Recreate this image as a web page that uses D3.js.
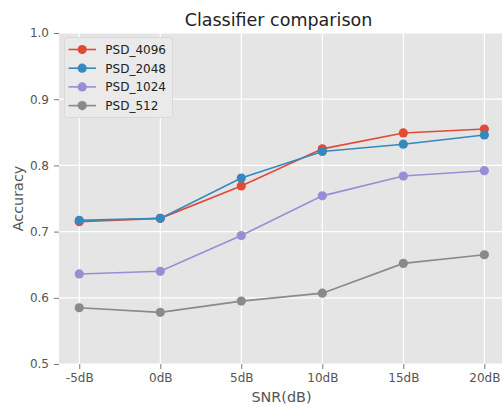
<!DOCTYPE html>
<html>
<head>
<meta charset="utf-8">
<script src="https://cdn.jsdelivr.net/npm/d3@7"></script>
<style>
  html, body { margin: 0; padding: 0; background: #fff; }
  svg { display: block; font-family: "DejaVu Sans", sans-serif; }
</style>
</head>
<body>
<svg id="chart" width="502" height="407"></svg>
<script>
// SNR levels on the x axis
const snrLabels = ["-5dB", "0dB", "5dB", "10dB", "15dB", "20dB"];
const snrValues = [-5, 0, 5, 10, 15, 20];

// Accuracy per classifier
const psd4096 = [0.715, 0.720, 0.769, 0.825, 0.849, 0.855];
const psd2048 = [0.717, 0.720, 0.781, 0.821, 0.832, 0.846];
const psd1024 = [0.636, 0.640, 0.694, 0.754, 0.784, 0.792];
const psd512  = [0.585, 0.578, 0.595, 0.607, 0.652, 0.665];

const seriesNames = ["PSD_4096", "PSD_2048", "PSD_1024", "PSD_512"];
const seriesColors = ["#E24A33", "#348ABD", "#988ED5", "#8A8A8A"];
const yTicks = [0.5, 0.6, 0.7, 0.8, 0.9, 1.0];

const series = [psd4096, psd2048, psd1024, psd512].map((vals, i) => ({
  name: seriesNames[i],
  color: seriesColors[i],
  points: vals.map((v, j) => ({ x: snrValues[j], y: v }))
}));

const svg = d3.select("#chart");
const plot = { left: 59, right: 504.6, top: 33, bottom: 364 };

const x = d3.scaleLinear().domain([-6.25, 21.25]).range([plot.left, plot.right]);
const y = d3.scaleLinear().domain([0.5, 1.0]).range([plot.bottom, plot.top]);

// panel background
svg.append("rect")
  .attr("x", plot.left).attr("y", plot.top)
  .attr("width", plot.right - plot.left).attr("height", plot.bottom - plot.top)
  .attr("fill", "#E5E5E5");

// grid lines
const grid = svg.append("g");
grid.selectAll("line.gx").data(snrValues).join("line")
  .attr("x1", d => x(d)).attr("x2", d => x(d))
  .attr("y1", plot.top).attr("y2", plot.bottom)
  .attr("stroke", "#fff").attr("stroke-width", 1.2);
grid.selectAll("line.gy").data(yTicks).join("line")
  .attr("x1", plot.left).attr("x2", plot.right)
  .attr("y1", d => y(d)).attr("y2", d => y(d))
  .attr("stroke", "#fff").attr("stroke-width", 1.2);

// axes
const xAxis = d3.axisBottom(x).tickValues(snrValues)
  .tickFormat((d, i) => snrLabels[i]).tickSize(5).tickPadding(4);
const yAxis = d3.axisLeft(y).tickValues(yTicks)
  .tickFormat(d3.format(".1f")).tickSize(5).tickPadding(5);

const gx = svg.append("g").attr("transform", `translate(0,${plot.bottom})`).call(xAxis);
const gy = svg.append("g").attr("transform", `translate(${plot.left},0)`).call(yAxis);
[gx, gy].forEach(g => {
  g.select(".domain").remove();
  g.selectAll(".tick line").attr("stroke", "#555").attr("stroke-width", 0.8);
  g.selectAll(".tick text").attr("fill", "#555").attr("font-size", 12)
    .attr("font-family", "DejaVu Sans, sans-serif");
});

// lines and markers
const line = d3.line().x(d => x(d.x)).y(d => y(d.y));
series.forEach(s => {
  svg.append("path").datum(s.points)
    .attr("d", line).attr("fill", "none")
    .attr("stroke", s.color).attr("stroke-width", 1.6);
  svg.append("g").selectAll("circle").data(s.points).join("circle")
    .attr("cx", d => x(d.x)).attr("cy", d => y(d.y)).attr("r", 4.6)
    .attr("fill", s.color);
});

// title and axis labels
svg.append("text").attr("x", 278.5).attr("y", 25.5)
  .attr("text-anchor", "middle").attr("font-size", 17.5).attr("fill", "#222")
  .text("Classifier comparison");
svg.append("text").attr("x", 281.5).attr("y", 401.5)
  .attr("text-anchor", "middle").attr("font-size", 14.4).attr("fill", "#555")
  .text("SNR(dB)");
svg.append("text")
  .attr("transform", `translate(22.5,${(plot.top + plot.bottom) / 2}) rotate(-90)`)
  .attr("text-anchor", "middle").attr("font-size", 14.4).attr("fill", "#555")
  .text("Accuracy");

// legend
const legend = svg.append("g").attr("transform", "translate(64.5,37.5)");
legend.append("rect")
  .attr("width", 108).attr("height", 80).attr("rx", 2.5)
  .attr("fill", "#EAEAEA").attr("stroke", "#D6D6D6").attr("stroke-width", 0.8);
series.forEach((s, i) => {
  const row = legend.append("g").attr("transform", `translate(0,${12 + i * 18.7})`);
  row.append("line").attr("x1", 4).attr("x2", 31.5).attr("y1", 0).attr("y2", 0)
    .attr("stroke", s.color).attr("stroke-width", 1.6);
  row.append("circle").attr("cx", 17.7).attr("cy", 0).attr("r", 4.6).attr("fill", s.color);
  row.append("text").attr("x", 40.8).attr("y", 4.3)
    .attr("font-size", 12).attr("fill", "#222").text(s.name);
});
</script>
</body>
</html>
